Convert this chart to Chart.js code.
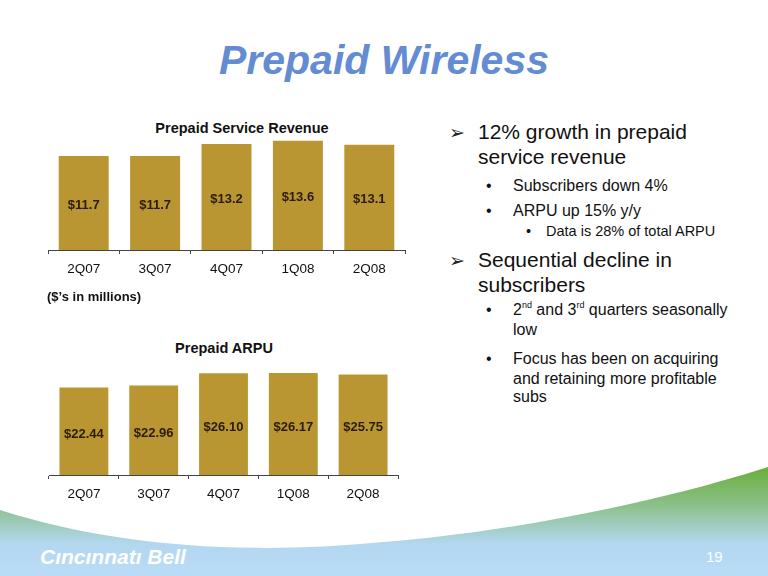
<!DOCTYPE html>
<html lang="en">
<head>
    <meta charset="UTF-8">
    <title>Prepaid Wireless</title>
    <script src="https://cdn.jsdelivr.net/npm/chart.js"></script>
    <style>
        html, body {
            margin: 0;
            padding: 0;
            background: #fff;
        }
        .slide {
            position: relative;
            width: 768px;
            height: 576px;
            overflow: hidden;
            font-family: Arial, "Liberation Sans", sans-serif;
            color: #111;
        }
        .abs {
            position: absolute;
            white-space: nowrap;
        }
        .bg {
            position: absolute;
            left: 0;
            top: 0;
        }
        .main-title {
            left: 0;
            width: 768px;
            top: 36px;
            height: 48px;
            line-height: 48px;
            text-align: center;
            font-size: 41px;
            font-weight: bold;
            font-style: italic;
            color: #648cd2;
        }
        .chart-title {
            font-size: 14.5px;
            font-weight: bold;
            line-height: 18px;
            height: 18px;
            width: 300px;
            text-align: center;
        }
        canvas {
            position: absolute;
        }
        .l1 { font-size: 21px; line-height: 24px; height: 24px; }
        .l2 { font-size: 16px; line-height: 20px; height: 20px; }
        .l3 { font-size: 14.5px; line-height: 18px; height: 18px; }
        .arrow { font-family: "DejaVu Sans", sans-serif; font-size: 19px; line-height: 24px; color: #222; }
        sup { font-size: 9px; line-height: 0; vertical-align: 7px; }
    </style>
</head>
<body>
<div class="slide">
    <svg class="bg" width="768" height="576" viewBox="0 0 768 576">
        <defs>
            <linearGradient id="wave" gradientUnits="userSpaceOnUse" x1="0" y1="467" x2="0" y2="576">
                <stop offset="0" stop-color="#6aae3a"/>
                <stop offset="0.35" stop-color="#8cc08a"/>
                <stop offset="0.7" stop-color="#b2d7ef"/>
                <stop offset="1" stop-color="#badcf8"/>
            </linearGradient>
        </defs>
        <path d="M0,510 C110,545 240,556 384,542 C500,533 650,505 768,467 L768,576 L0,576 Z" fill="url(#wave)"/>
    </svg>

    <div class="abs main-title">Prepaid Wireless</div>

    <div class="abs chart-title" style="left:92px; top:119px;">Prepaid Service Revenue</div>
    <canvas id="revenueChart" width="372" height="179" style="left:40px; top:112px;"></canvas>
    <div class="abs" style="left:47px; top:289px; font-size:13px; font-weight:bold; line-height:16px;">($’s in millions)</div>

    <div class="abs chart-title" style="left:74px; top:339px;">Prepaid ARPU</div>
    <canvas id="arpuChart" width="372" height="172" style="left:40px; top:340px;"></canvas>

    <!-- right hand bullets -->
    <div class="abs arrow" style="left:449px; top:120px;">➢</div>
    <div class="abs l1" style="left:478px; top:120px;">12% growth in prepaid</div>
    <div class="abs l1" style="left:478px; top:145px;">service revenue</div>
    <div class="abs l2" style="left:486px; top:176px;">•</div>
    <div class="abs l2" style="left:513px; top:176px;">Subscribers down 4%</div>
    <div class="abs l2" style="left:486px; top:201px;">•</div>
    <div class="abs l2" style="left:513px; top:201px;">ARPU up 15% y/y</div>
    <div class="abs l3" style="left:526px; top:222px;">•</div>
    <div class="abs l3" style="left:546px; top:222px;">Data is 28% of total ARPU</div>

    <div class="abs arrow" style="left:449px; top:248px;">➢</div>
    <div class="abs l1" style="left:478px; top:248px;">Sequential decline in</div>
    <div class="abs l1" style="left:478px; top:273px;">subscribers</div>
    <div class="abs l2" style="left:486px; top:300px;">•</div>
    <div class="abs l2" style="left:513px; top:300px;">2<sup>nd</sup> and 3<sup>rd</sup> quarters seasonally</div>
    <div class="abs l2" style="left:513px; top:320px;">low</div>
    <div class="abs l2" style="left:486px; top:349px;">•</div>
    <div class="abs l2" style="left:513px; top:349px;">Focus has been on acquiring</div>
    <div class="abs l2" style="left:513px; top:369px;">and retaining more profitable</div>
    <div class="abs l2" style="left:513px; top:387px;">subs</div>

    <div class="abs" style="left:40px; top:544px; font-size:21px; font-weight:bold; font-style:italic; color:#fff; line-height:26px;">Cıncınnatı Bell</div>
    <div class="abs" style="left:706px; top:548px; font-size:15px; color:#fff; line-height:18px;">19</div>
</div>

<script>
    // Data
    const quarters = ['2Q07', '3Q07', '4Q07', '1Q08', '2Q08'];
    const serviceRevenue = [11.7, 11.7, 13.2, 13.6, 13.1];   // $ millions
    const prepaidArpu = [22.44, 22.96, 26.10, 26.17, 25.75]; // $ per sub

    const FONT = 'Arial, "Liberation Sans", sans-serif';
    const BAR_COLOR = '#ba9632';

    // writes the value inside each bar, a bit below its middle
    const barLabels = {
        id: 'barLabels',
        afterDatasetsDraw(chart, args, opts) {
            const ctx = chart.ctx;
            const meta = chart.getDatasetMeta(0);
            const values = chart.data.datasets[0].data;
            ctx.save();
            ctx.font = 'bold 13px ' + FONT;
            ctx.fillStyle = '#2a1c0c';
            ctx.textAlign = 'center';
            ctx.textBaseline = 'middle';
            meta.data.forEach((bar, i) => {
                const txt = '$' + values[i].toFixed(opts.decimals);
                ctx.fillText(txt, bar.x, (bar.y + bar.base) / 2 + opts.shift);
            });
            ctx.restore();
        }
    };

    function makeBarChart(id, values, yMax, padding, decimals, shift) {
        const ctx = document.getElementById(id).getContext('2d');
        return new Chart(ctx, {
            type: 'bar',
            data: {
                labels: quarters,
                datasets: [{
                    data: values,
                    backgroundColor: BAR_COLOR,
                    borderWidth: 0,
                    categoryPercentage: 1.0,
                    barPercentage: 0.7
                }]
            },
            options: {
                responsive: false,
                animation: false,
                devicePixelRatio: 1,
                layout: { padding: padding },
                plugins: {
                    legend: { display: false },
                    tooltip: { enabled: false },
                    barLabels: { decimals: decimals, shift: shift }
                },
                scales: {
                    x: {
                        grid: {
                            offset: true,
                            drawOnChartArea: false,
                            drawTicks: true,
                            tickLength: 4,
                            color: '#444'
                        },
                        border: { display: true, color: '#444', width: 1 },
                        ticks: {
                            color: '#111',
                            padding: 7,
                            font: { size: 13.5, family: FONT }
                        }
                    },
                    y: {
                        display: false,
                        min: 0,
                        max: yMax
                    }
                }
            },
            plugins: [barLabels]
        });
    }

    makeBarChart('revenueChart', serviceRevenue, 14,
        { top: 25.6, left: 8, right: 7, bottom: 6.8 }, 1, 2);
    makeBarChart('arpuChart', prepaidArpu, 28,
        { top: 25.8, left: 9, right: 14, bottom: 2.8 }, 2, 3);
</script>
</body>
</html>
